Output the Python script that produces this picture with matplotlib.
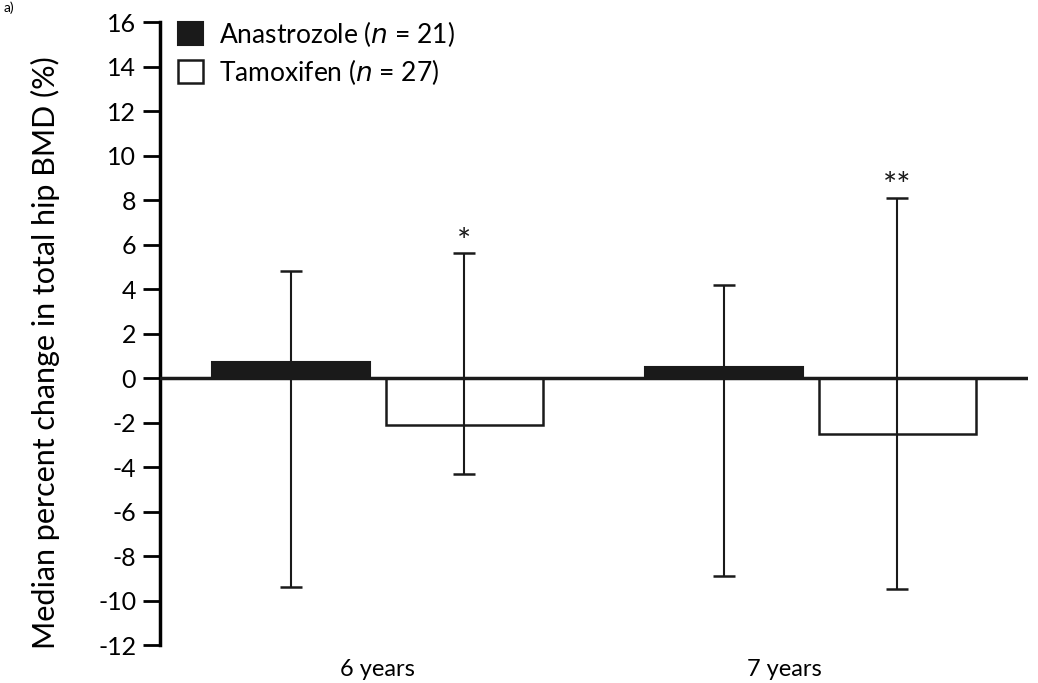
import numpy as np
import matplotlib.pyplot as plt

# data
groups = ["6 years", "7 years"]
anastrozole = [0.7, 0.5]
anastrozole_lo = [-9.4, -8.9]
anastrozole_hi = [4.8, 4.2]
tamoxifen = [-2.1, -2.5]
tamoxifen_lo = [-4.3, -9.5]
tamoxifen_hi = [5.6, 8.1]
stars = ["*", "**"]

plt.rcParams['font.family'] = ['Lato', 'DejaVu Sans']
plt.rcParams['axes.unicode_minus'] = False

fig = plt.figure(figsize=(10.38, 6.83), dpi=100)
ax = fig.add_axes([0.154, 0.0556, 0.836, 0.912])

x = np.arange(len(groups))
w = 0.363
off = 0.2

ax.bar(x - off, anastrozole, w, color="#1a1a1a", edgecolor="#1a1a1a", linewidth=1.5,
       label="Anastrozole ($n$ = 21)", zorder=2)
ax.bar(x + off, tamoxifen, w, color="white", edgecolor="#1a1a1a", linewidth=1.8,
       label="Tamoxifen ($n$ = 27)", zorder=2)

a_err = [np.array(anastrozole) - np.array(anastrozole_lo),
         np.array(anastrozole_hi) - np.array(anastrozole)]
t_err = [np.array(tamoxifen) - np.array(tamoxifen_lo),
         np.array(tamoxifen_hi) - np.array(tamoxifen)]
ax.errorbar(x - off, anastrozole, yerr=a_err, fmt="none", ecolor="#1a1a1a",
            elinewidth=1.5, capsize=8, capthick=1.8, zorder=3)
ax.errorbar(x + off, tamoxifen, yerr=t_err, fmt="none", ecolor="#1a1a1a",
            elinewidth=1.5, capsize=8, capthick=1.8, zorder=3)

for i in range(len(groups)):
    ax.text(x[i] + off, tamoxifen_hi[i] - 0.2, stars[i], ha="center", va="bottom",
            fontsize=24, color="#1a1a1a")

ax.axhline(0, color="#1a1a1a", linewidth=2.5, zorder=4)

ax.set_xlim(-0.503, 1.501)
ax.set_ylim(-12, 16)
ax.set_yticks(np.arange(-12, 17, 2))
ax.set_xticks([0, 0.94])
ax.set_xticklabels(groups, fontsize=17)
ax.tick_params(axis="x", length=0, pad=10)
ax.tick_params(axis="y", length=12, width=2, labelsize=18, pad=5, direction="out")
ax.set_ylabel("Median percent change in total hip BMD (%)", fontsize=22, labelpad=32)
ax.yaxis.set_label_coords(-0.115, 0.47)

for s in ["top", "right", "bottom"]:
    ax.spines[s].set_visible(False)
ax.spines["left"].set_linewidth(2.5)

ax.legend(loc="upper left", bbox_to_anchor=(0.0, 1.035), frameon=False, fontsize=19,
          handlelength=0.95, handleheight=0.95, handletextpad=0.6, labelspacing=0.3,
          borderaxespad=0.3)

fig.text(0.003, 0.998, "a)", fontsize=10, ha="left", va="top")

fig.savefig("out.png", dpi=100)
